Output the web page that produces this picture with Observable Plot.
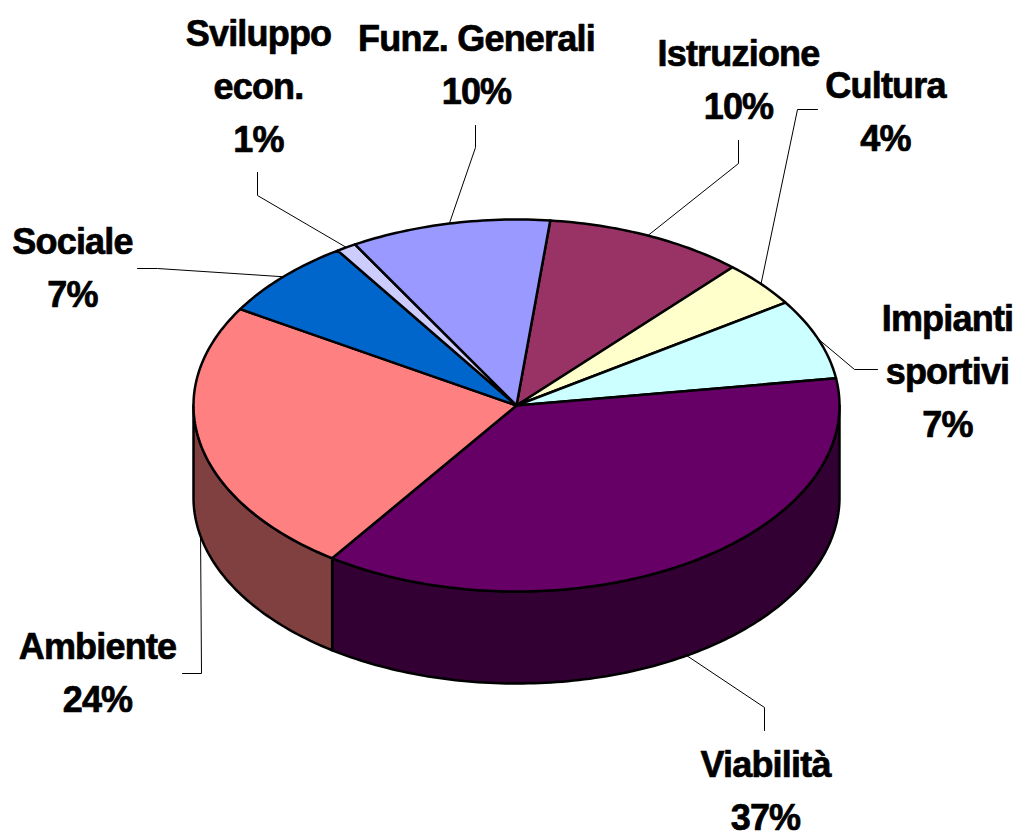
<!DOCTYPE html>
<html><head><meta charset="utf-8">
<script src="https://cdn.jsdelivr.net/npm/d3@7"></script>
<script src="https://cdn.jsdelivr.net/npm/@observablehq/plot@0.6"></script>
<style>body{margin:0;background:#fff;} #chart svg{display:block;}</style>
</head><body><div id="chart"></div>
<script>
// ---- data ----
const categories = ["Istruzione", "Cultura", "Impianti\nsportivi", "Viabilità", "Ambiente", "Sociale", "Sviluppo\necon.", "Funz. Generali"];
const values = [10, 4, 7, 37, 24, 7, 1, 10];
const topColors = ["#993366", "#FFFFCC", "#CCFFFF", "#660066", "#FF8080", "#0066CC", "#CCCCFF", "#9999FF"];

// ---- layout (annotation placement) ----
const labelX = [738, 885, 947, 765, 97, 72, 258, 476];
const labelBaseline = [65, 97, 330, 776, 658, 253, 45, 50];
const leaderStart = [[738,140],[817,109],[877,369],[764,730],[182,673],[137,268],[257,172],[475,125]];
const leaderElbow = [[738,163],[797,109],[854,369],[764,707],[201,673],[157,268],[257,195],[475,147]];
const pieGeom = {cx: 516, cy: 405, rx: 323, ry: 186, depth: 92, start: 6};
const fontSize = 36, lineStep = 53;

// ---- geometry from data ----
const total = d3.sum(values);
const rad = a => a * Math.PI / 180;
const pt = (a, dz) => ({x: pieGeom.cx + pieGeom.rx * Math.sin(rad(a)), y: pieGeom.cy - pieGeom.ry * Math.cos(rad(a)) + dz});
const cum = d3.cumsum(values);
const slices = values.map((v, i) => {
  const a0 = pieGeom.start + (cum[i] - v) / total * 360;
  const a1 = pieGeom.start + cum[i] / total * 360;
  return {i, a0, a1, mid: (a0 + a1) / 2};
});
function arcPts(a, b, dz) {
  const n = Math.max(2, Math.ceil(Math.abs(b - a)));
  return d3.range(n + 1).map(k => pt(a + (b - a) * k / n, dz));
}
const sideColor = c => { const r = d3.rgb(c); return d3.rgb(r.r / 2, r.g / 2, r.b / 2).formatHex(); };

const walls = [];
slices.forEach(s => {
  const lo = Math.max(s.a0, 90), hi = Math.min(s.a1, 270);
  if (lo < hi) {
    const pts = [...arcPts(lo, hi, 0), ...arcPts(hi, lo, pieGeom.depth)];
    pts.forEach(p => walls.push({...p, id: s.i, fill: sideColor(topColors[s.i])}));
  }
});
const tops = [];
slices.forEach(s => {
  const pts = [{x: pieGeom.cx, y: pieGeom.cy}, ...arcPts(s.a0, s.a1, 0)];
  pts.forEach(p => tops.push({...p, id: s.i, fill: topColors[s.i]}));
});
const leaders = [];
slices.forEach(s => {
  const m = ((s.mid % 360) + 360) % 360;
  const anchor = pt(m, (m > 90 && m < 270) ? pieGeom.depth : 0);
  [{x: leaderStart[s.i][0], y: leaderStart[s.i][1]}, {x: leaderElbow[s.i][0], y: leaderElbow[s.i][1]}, anchor]
    .forEach(p => leaders.push({...p, id: s.i}));
});
const textLines = [];
categories.forEach((c, i) => {
  const lines = [...c.split("\n"), values[i] + "%"];
  lines.forEach((t, k) => textLines.push({x: labelX[i], y: labelBaseline[i] + k * lineStep, text: t}));
});

const chart = Plot.plot({
  width: 1018, height: 835, margin: 0,
  x: {domain: [0, 1018], range: [0, 1018], axis: null},
  y: {domain: [0, 835], range: [0, 835], axis: null},
  color: {type: "identity"},
  style: {background: "#fff", letterSpacing: "-0.8px"},
  marks: [
    Plot.line(walls, {x: "x", y: "y", z: "id", fill: "fill", stroke: "#000", strokeWidth: 2.5, strokeLinejoin: "round", curve: "linear-closed"}),
    Plot.line(tops, {x: "x", y: "y", z: "id", fill: "fill", stroke: "#000", strokeWidth: 2.5, strokeLinejoin: "round", curve: "linear-closed"}),
    Plot.line(leaders, {x: "x", y: "y", z: "id", stroke: "#000", strokeWidth: 1}),
    Plot.text(textLines, {x: "x", y: "y", text: "text", textAnchor: "middle", lineAnchor: "bottom", fontSize, fontWeight: "bold", fontFamily: "'Liberation Sans', Arial, sans-serif", fill: "#000", stroke: "#000", strokeWidth: 0.7})
  ]
});
document.getElementById("chart").appendChild(chart);
</script>
</body></html>
